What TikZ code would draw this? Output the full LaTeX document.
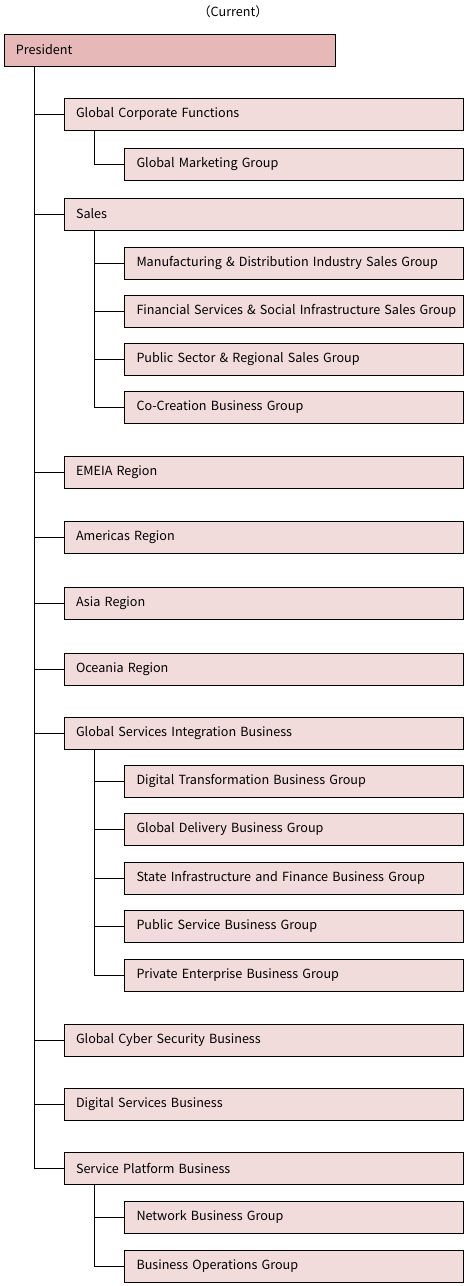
\documentclass[tikz,border=0pt]{standalone}
\usepackage{fontspec}
\setmainfont{Noto Sans CJK JP}
\usepackage{tikz}

\definecolor{headpink}{HTML}{E6B8B7}
\definecolor{unitpink}{HTML}{F2DCDB}

\begin{document}
\begin{tikzpicture}[x=1pt,y=-1pt,
  font=\fontsize{12.6}{14}\selectfont,
  box/.style={draw, line width=1pt, fill=unitpink, anchor=west,
    minimum height=32pt, inner xsep=0pt, align=left,
    execute at begin node=\hspace*{12pt}},
  unit/.style={box, text width=399.5pt},
  group/.style={box, text width=339pt},
  link/.style={line width=1pt}]
\useasboundingbox (0,0) rectangle (467,1286);
\node (title) at (233,12) {（Current）};
\node[box, fill=headpink, text width=331pt] (pres) at (3.5,50) {President};
% first level
\node[unit] (gcf) at (63.5,114) {Global Corporate Functions};
\node[unit] (sales) at (63.5,214) {Sales};
\node[unit] (emeia) at (63.5,472) {EMEIA Region};
\node[unit] (amer) at (63.5,537) {Americas Region};
\node[unit] (asia) at (63.5,603) {Asia Region};
\node[unit] (ocea) at (63.5,669) {Oceania Region};
\node[unit] (gsib) at (63.5,733) {Global Services Integration Business};
\node[unit] (gcs) at (63.5,1040) {Global Cyber Security Business};
\node[unit] (dsb) at (63.5,1104) {Digital Services Business};
\node[unit] (spb) at (63.5,1168) {Service Platform Business};
% second level
\node[group] (gmg) at (124,164) {Global Marketing Group};
\node[group] (mds) at (124,263) {Manufacturing \& Distribution Industry Sales Group};
\node[group] (fss) at (124,311) {Financial Services \& Social Infrastructure Sales Group};
\node[group] (psr) at (124,359) {Public Sector \& Regional Sales Group};
\node[group] (ccb) at (124,407) {Co-Creation Business Group};
\node[group] (dtb) at (124,781) {Digital Transformation Business Group};
\node[group] (gdb) at (124,829) {Global Delivery Business Group};
\node[group] (sif) at (124,878) {State Infrastructure and Finance Business Group};
\node[group] (psb) at (124,926) {Public Service Business Group};
\node[group] (peb) at (124,975) {Private Enterprise Business Group};
\node[group] (nbg) at (124,1217) {Network Business Group};
\node[group] (bog) at (124,1266) {Business Operations Group};
% trunks
\coordinate (presT) at (34,66);
\coordinate (gcfT) at (94,130);
\coordinate (salesT) at (94,230);
\coordinate (gsibT) at (94,749);
\coordinate (spbT) at (94,1184);
\foreach \n in {gcf,sales,emeia,amer,asia,ocea,gsib,gcs,dsb,spb}
  \draw[link] (presT) |- (\n.west);
\draw[link] (gcfT) |- (gmg.west);
\foreach \n in {mds,fss,psr,ccb}
  \draw[link] (salesT) |- (\n.west);
\foreach \n in {dtb,gdb,sif,psb,peb}
  \draw[link] (gsibT) |- (\n.west);
\foreach \n in {nbg,bog}
  \draw[link] (spbT) |- (\n.west);
\end{tikzpicture}
\end{document}
